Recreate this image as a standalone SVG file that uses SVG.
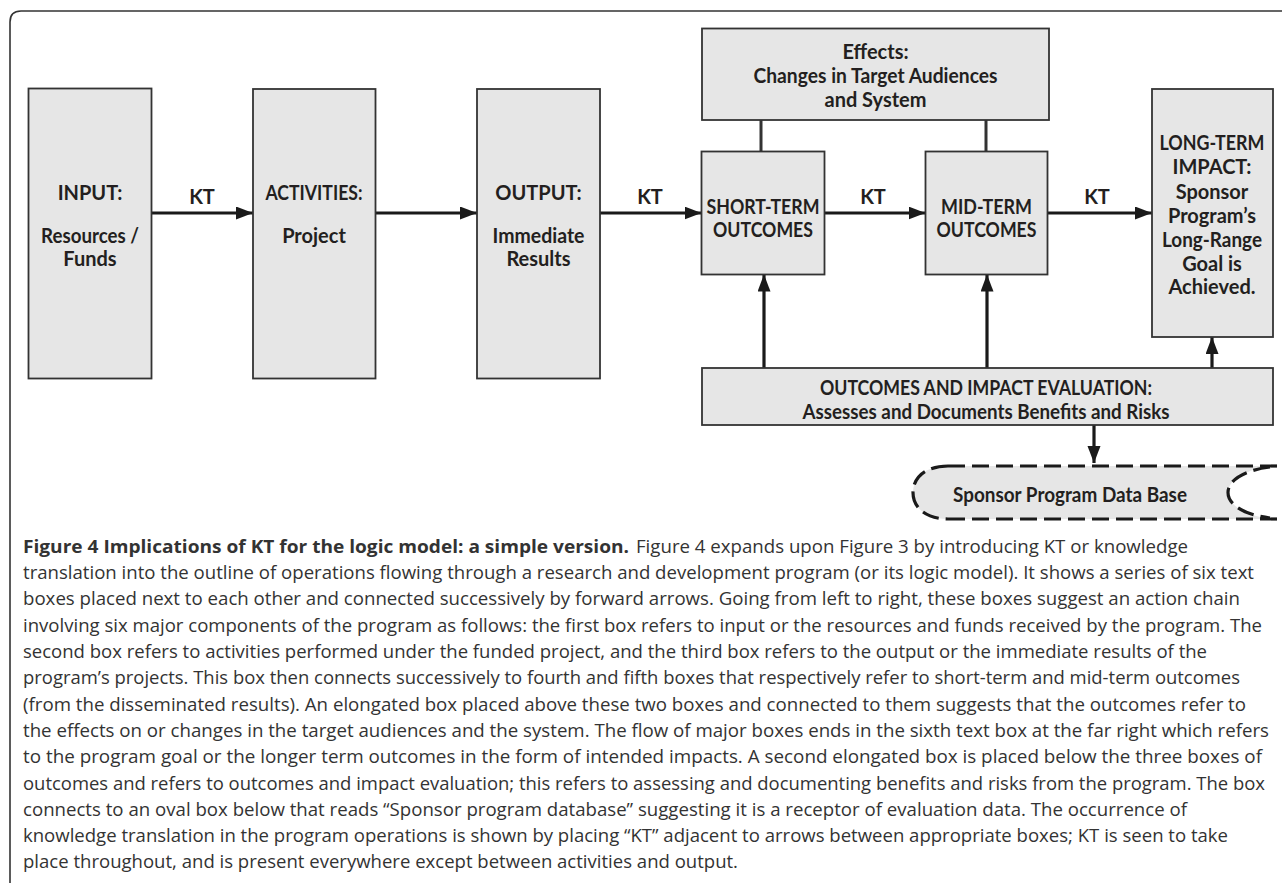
<svg xmlns="http://www.w3.org/2000/svg" width="1282" height="883" viewBox="0 0 1282 883">
<defs>
<marker id="ah" markerUnits="userSpaceOnUse" markerWidth="18" markerHeight="14" refX="17" refY="6.5" orient="auto">
<path d="M0,0 L17,6.5 L0,13 z" fill="#1a1a1a"/>
</marker>
<style>
.box{fill:#e6e6e6;stroke:#333;stroke-width:1.8}
.lbl{font-family:Lato,"Liberation Sans",sans-serif;font-weight:700;font-size:20px;fill:#231f20;text-anchor:middle}
.kt{font-family:Lato,"Liberation Sans",sans-serif;font-weight:700;font-size:20px;fill:#231f20;text-anchor:middle}
.arr{stroke:#1a1a1a;stroke-width:3.2;fill:none;marker-end:url(#ah)}
.ln{stroke:#333;stroke-width:3;fill:none}
.cap{font-family:"Open Sans","Liberation Sans",sans-serif;font-size:18.5px;fill:#333}
.capb{font-family:"Open Sans","Liberation Sans",sans-serif;font-size:18.5px;font-weight:700;fill:#333}
</style>
</defs>
<rect width="1282" height="883" fill="#fff"/>
<path d="M10,883 L10,22 Q10,11 21,11 L1282,11" fill="none" stroke="#333" stroke-width="1.6"/>

<g id="connectors">
<path class="arr" d="M151.5,213 L253,213"/>
<path class="arr" d="M375.5,213 L477,213"/>
<path class="arr" d="M600,213 L701.5,213"/>
<path class="arr" d="M824.5,213 L925.5,213"/>
<path class="arr" d="M1047.5,213 L1152,213"/>
<path class="arr" d="M764,368 L764,274.5"/>
<path class="arr" d="M987,368 L987,274.5"/>
<path class="arr" d="M1212,368 L1212,337"/>
<path class="arr" d="M1094,425 L1094,463"/>
<path class="ln" d="M761,120 L761,151.5"/>
<path class="ln" d="M986,120 L986,151.5"/>
<text class="kt" x="202" y="204">KT</text>
<text class="kt" x="650" y="204">KT</text>
<text class="kt" x="873" y="204">KT</text>
<text class="kt" x="1097" y="204">KT</text>
</g>

<g id="input">
<rect class="box" x="28.5" y="88.5" width="123" height="290"/>
<text class="lbl" x="90" y="200">INPUT:</text>
<text class="lbl" x="90" y="243" textLength="98" lengthAdjust="spacingAndGlyphs">Resources /</text>
<text class="lbl" x="90" y="266">Funds</text>
</g>

<g id="activities">
<rect class="box" x="253" y="89" width="122.5" height="289.5"/>
<text class="lbl" x="314" y="200" textLength="97" lengthAdjust="spacingAndGlyphs">ACTIVITIES:</text>
<text class="lbl" x="314" y="243">Project</text>
</g>

<g id="output">
<rect class="box" x="477" y="89" width="123" height="289.5"/>
<text class="lbl" x="538.5" y="200">OUTPUT:</text>
<text class="lbl" x="538.5" y="243" textLength="92" lengthAdjust="spacingAndGlyphs">Immediate</text>
<text class="lbl" x="538.5" y="266">Results</text>
</g>

<g id="effects">
<rect class="box" x="702" y="28.5" width="347" height="91.5"/>
<text class="lbl" x="875.5" y="59">Effects:</text>
<text class="lbl" x="875.5" y="83" textLength="244" lengthAdjust="spacingAndGlyphs">Changes in Target Audiences</text>
<text class="lbl" x="875.5" y="107">and System</text>
</g>

<g id="short-term">
<rect class="box" x="701.5" y="151.5" width="123" height="123"/>
<text class="lbl" x="763" y="214" textLength="113" lengthAdjust="spacingAndGlyphs">SHORT-TERM</text>
<text class="lbl" x="763" y="237" textLength="100" lengthAdjust="spacingAndGlyphs">OUTCOMES</text>
</g>

<g id="mid-term">
<rect class="box" x="925.5" y="151.5" width="122" height="123"/>
<text class="lbl" x="986.5" y="214" textLength="91" lengthAdjust="spacingAndGlyphs">MID-TERM</text>
<text class="lbl" x="986.5" y="237" textLength="100" lengthAdjust="spacingAndGlyphs">OUTCOMES</text>
</g>

<g id="long-term">
<rect class="box" x="1152" y="89" width="121" height="248"/>
<text class="lbl" x="1212" y="150" textLength="105" lengthAdjust="spacingAndGlyphs">LONG-TERM</text>
<text class="lbl" x="1212" y="174">IMPACT:</text>
<text class="lbl" x="1212" y="199">Sponsor</text>
<text class="lbl" x="1212" y="223">Program’s</text>
<text class="lbl" x="1212" y="247" textLength="100" lengthAdjust="spacingAndGlyphs">Long-Range</text>
<text class="lbl" x="1212" y="271">Goal is</text>
<text class="lbl" x="1212" y="294">Achieved.</text>
</g>

<g id="evaluation">
<rect class="box" x="702" y="368" width="571" height="57"/>
<text class="lbl" x="986" y="395" textLength="332" lengthAdjust="spacingAndGlyphs">OUTCOMES AND IMPACT EVALUATION:</text>
<text class="lbl" x="986" y="419" textLength="367" lengthAdjust="spacingAndGlyphs">Assesses and Documents Benefits and Risks</text>
</g>

<g id="database">
<path d="M948,466 L1282,466 L1282,519 L948,519 C925,519 913,507 913,492.5 C913,478 925,466 948,466 Z" fill="#e6e6e6"/>
<path d="M1270,466 C1245,470 1228,480 1228,492.5 C1228,505 1245,515 1270,519 L1282,519 L1282,466 Z" fill="#fff"/>
<g fill="none" stroke="#1a1a1a" stroke-width="3.2" stroke-dasharray="17 7">
<path d="M948,466 L1282,466"/>
<path d="M948,519 L1282,519"/>
<path d="M948,466 C925,466 913,478 913,492.5 C913,507 925,519 948,519"/>
<path d="M1270,467 C1245,470 1228,480 1228,492.5 C1228,505 1245,515 1270,518"/>
</g>
<text class="lbl" x="1070" y="502" textLength="234" lengthAdjust="spacingAndGlyphs">Sponsor Program Data Base</text>
</g>

<g id="caption">
<text class="capb" x="23" y="553" textLength="606" lengthAdjust="spacingAndGlyphs">Figure 4 Implications of KT for the logic model: a simple version.</text>
<text class="cap" x="636" y="553" textLength="552" lengthAdjust="spacingAndGlyphs">Figure 4 expands upon Figure 3 by introducing KT or knowledge</text>
<text class="cap" x="23" y="579" textLength="1231" lengthAdjust="spacingAndGlyphs">translation into the outline of operations flowing through a research and development program (or its logic model). It shows a series of six text</text>
<text class="cap" x="23" y="605" textLength="1217" lengthAdjust="spacingAndGlyphs">boxes placed next to each other and connected successively by forward arrows. Going from left to right, these boxes suggest an action chain</text>
<text class="cap" x="23" y="632" textLength="1239" lengthAdjust="spacingAndGlyphs">involving six major components of the program as follows: the first box refers to input or the resources and funds received by the program. The</text>
<text class="cap" x="23" y="658" textLength="1184" lengthAdjust="spacingAndGlyphs">second box refers to activities performed under the funded project, and the third box refers to the output or the immediate results of the</text>
<text class="cap" x="23" y="684" textLength="1217" lengthAdjust="spacingAndGlyphs">program’s projects. This box then connects successively to fourth and fifth boxes that respectively refer to short-term and mid-term outcomes</text>
<text class="cap" x="23" y="711" textLength="1223" lengthAdjust="spacingAndGlyphs">(from the disseminated results). An elongated box placed above these two boxes and connected to them suggests that the outcomes refer to</text>
<text class="cap" x="23" y="737" textLength="1246" lengthAdjust="spacingAndGlyphs">the effects on or changes in the target audiences and the system. The flow of major boxes ends in the sixth text box at the far right which refers</text>
<text class="cap" x="23" y="763" textLength="1239" lengthAdjust="spacingAndGlyphs">to the program goal or the longer term outcomes in the form of intended impacts. A second elongated box is placed below the three boxes of</text>
<text class="cap" x="23" y="790" textLength="1242" lengthAdjust="spacingAndGlyphs">outcomes and refers to outcomes and impact evaluation; this refers to assessing and documenting benefits and risks from the program. The box</text>
<text class="cap" x="23" y="816" textLength="1164" lengthAdjust="spacingAndGlyphs">connects to an oval box below that reads “Sponsor program database” suggesting it is a receptor of evaluation data. The occurrence of</text>
<text class="cap" x="23" y="842" textLength="1205" lengthAdjust="spacingAndGlyphs">knowledge translation in the program operations is shown by placing “KT” adjacent to arrows between appropriate boxes; KT is seen to take</text>
<text class="cap" x="23" y="868" textLength="715" lengthAdjust="spacingAndGlyphs">place throughout, and is present everywhere except between activities and output.</text>
</g>
</svg>
